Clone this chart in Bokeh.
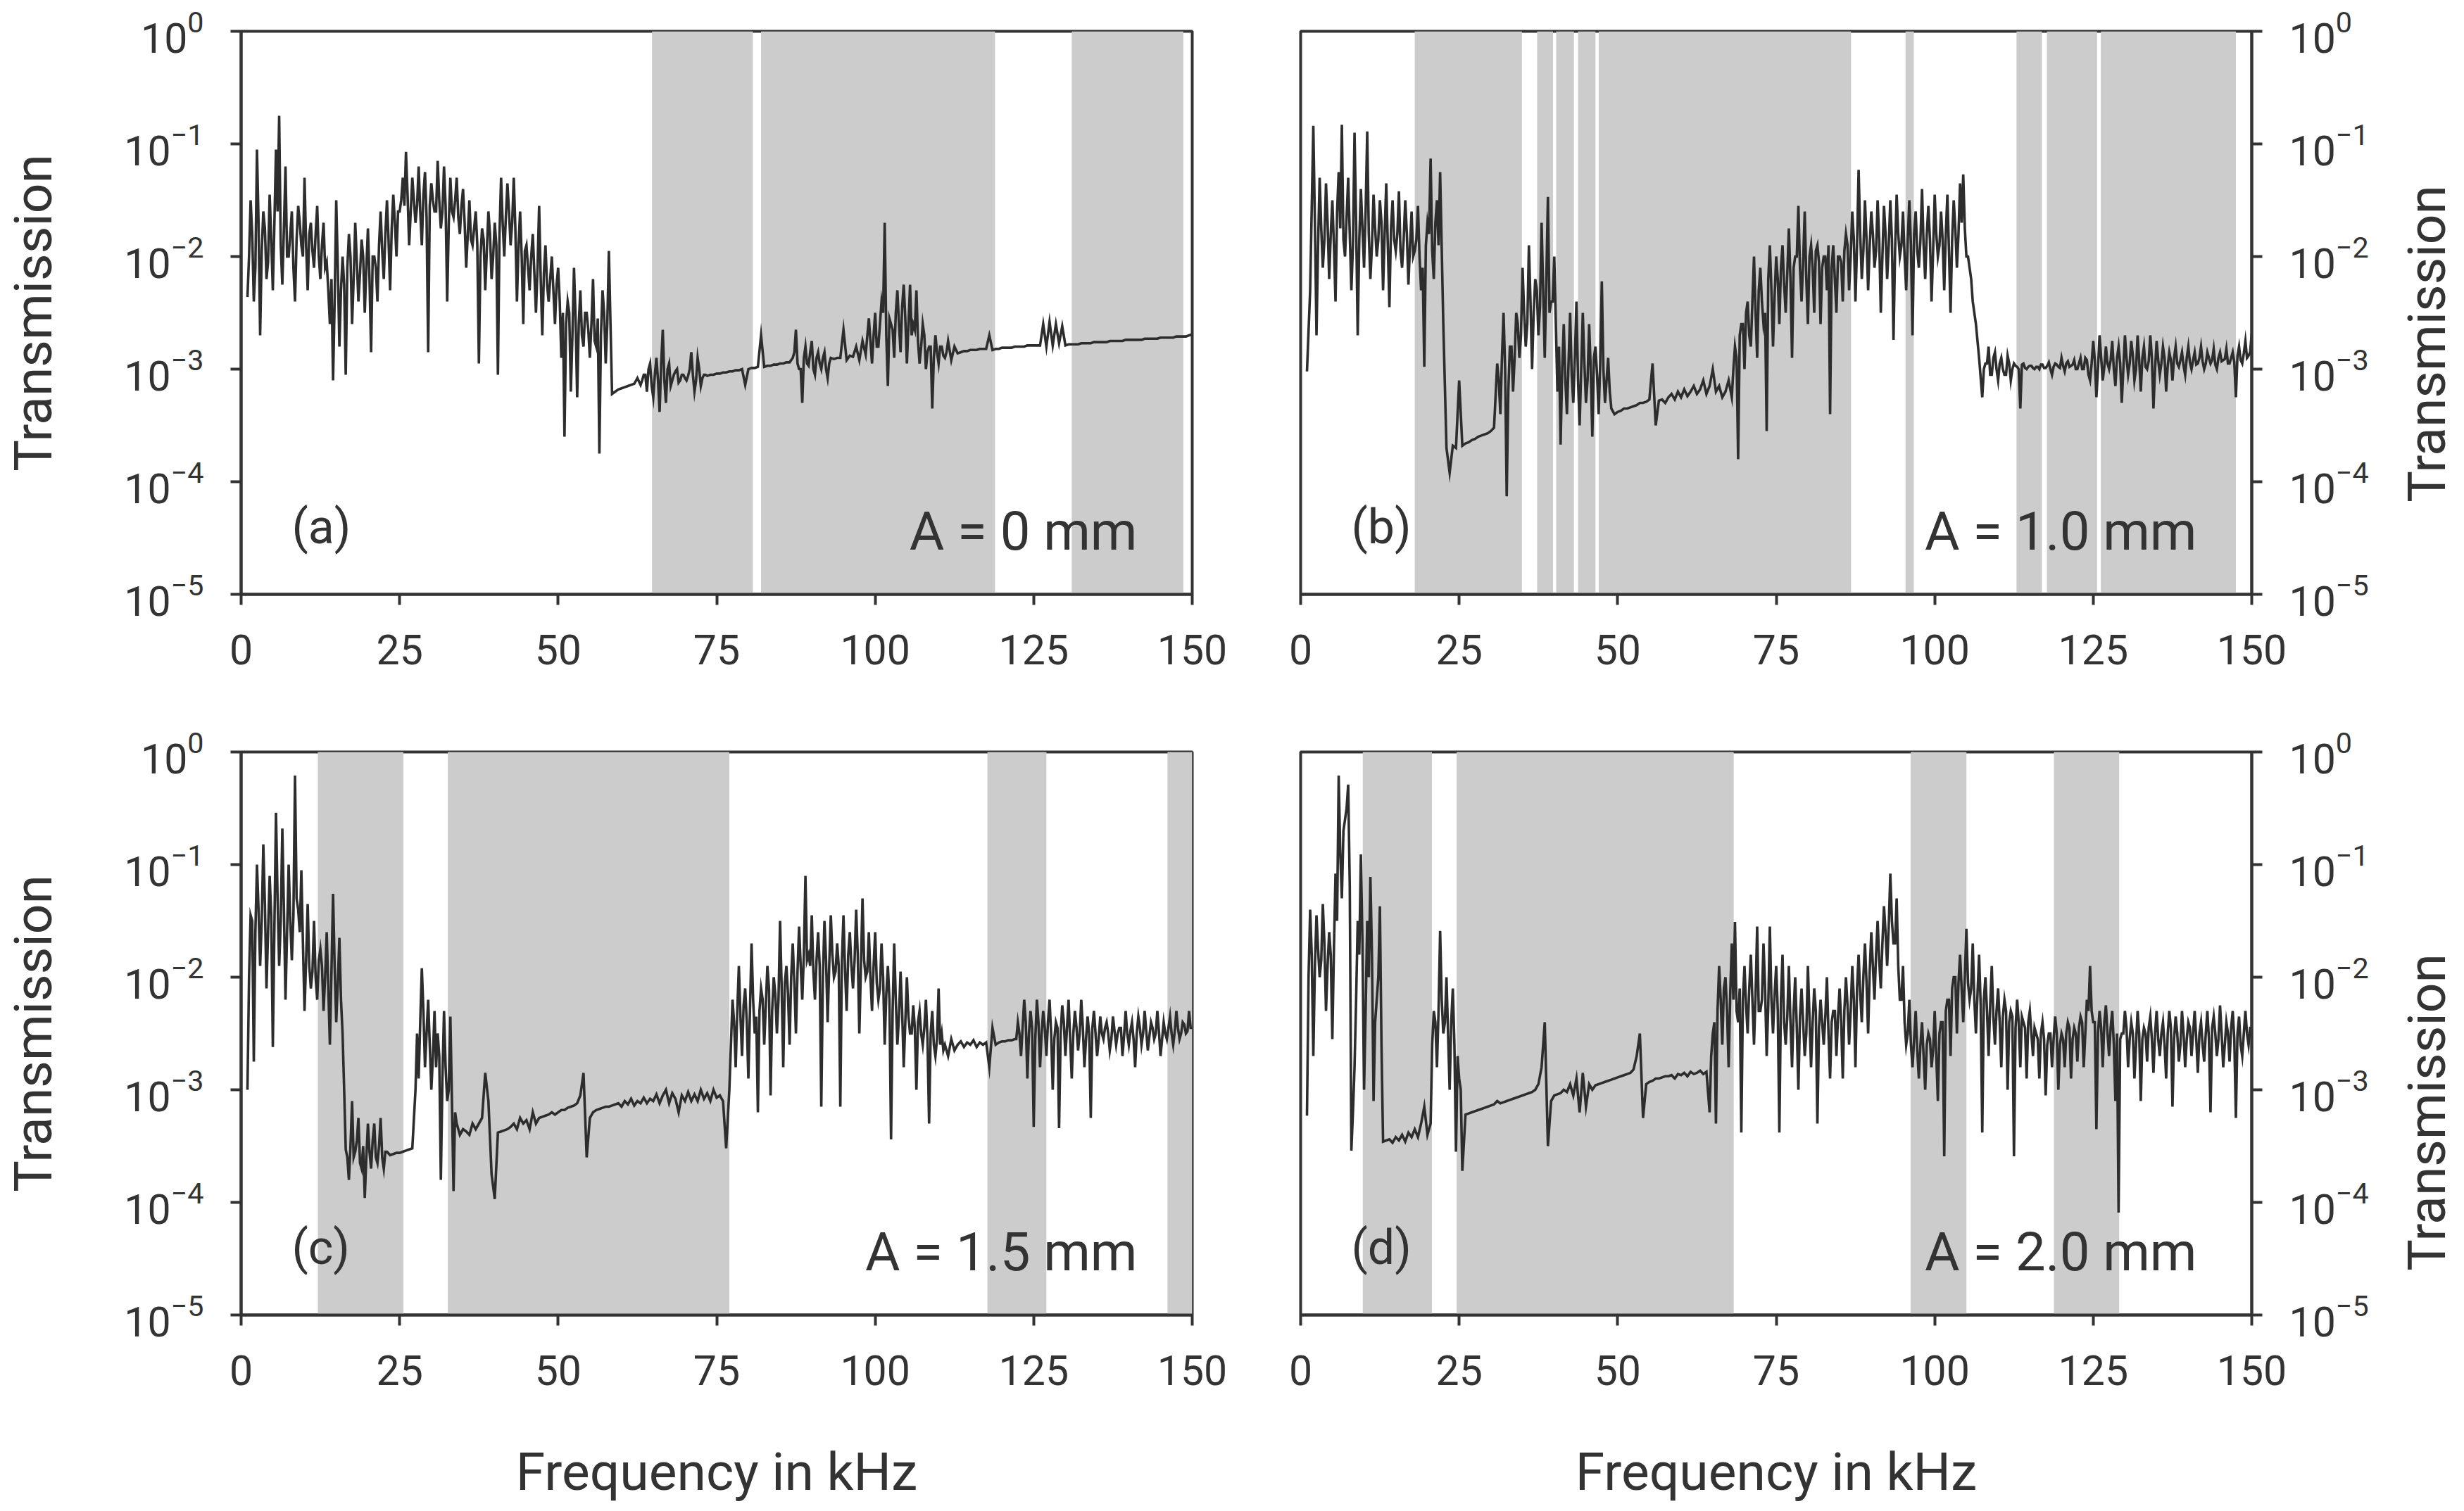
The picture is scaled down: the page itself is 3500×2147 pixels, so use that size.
import math
import numpy as np
from bokeh.plotting import figure
from bokeh.layouts import gridplot
from bokeh.models import Range1d, FixedTicker, Label
from bokeh.embed import file_html
from bokeh.resources import INLINE

# ---------------- data ----------------
# Transmission spectra sampled every 0.5 kHz from 1 kHz to 150 kHz,
# stored as log10(transmission).  The noisy stretches carry extra samples
# half-way between (listed per stretch as (first frequency, values)).
FREQ_START = 1.0
FREQ_STEP = 0.5

a_log10_T = [
    -2.36, -1.5, -2.4, -1.05, -2.7, -1.6, -2.2, -1.45, -2.3, -1.05, -0.75, -2.25, -1.2, -2.0, -1.6, -2.4, -1.55, -1.9, -1.3, -2.3,
    -1.7, -2.1, -1.55, -2.2, -1.7, -2.05, -2.6, -3.1, -1.5, -2.8, -2.0, -3.05, -1.8, -2.6, -1.7, -2.4, -1.85, -2.5, -1.75, -2.85,
    -2.0, -2.4, -1.6, -2.2, -1.5, -2.3, -1.45, -2.0, -1.6, -1.3, -1.07, -1.9, -1.3, -1.7, -1.2, -1.9, -1.25, -2.85, -1.35, -1.6,
    -1.15, -1.75, -1.2, -2.4, -1.3, -1.65, -1.3, -1.8, -1.4, -2.1, -1.5, -1.9, -1.6, -2.95, -1.75, -2.3, -1.6, -2.2, -1.7, -3.05,
    -1.3, -2.0, -1.35, -1.9, -1.3, -2.4, -1.6, -2.6, -1.9, -2.3, -1.8, -2.5, -1.55, -2.7, -1.9, -2.4, -2.0, -2.6, -2.1, -2.9,
    -3.6, -2.4, -3.2, -2.1, -3.25, -2.3, -2.8, -2.5, -2.9, -2.2, -2.8, -3.75, -2.3, -2.95, -1.95, -3.22, -3.2, -3.18, -3.17, -3.16,
    -3.15, -3.14, -3.13, -3.08, -3.14, -3.05, -3.2, -2.95, -3.25, -2.9, -3.38, -2.65, -3.3, -2.95, -3.1, -3.02, -3.12, -3.05, -3.08, -3.06,
    -2.85, -3.2, -2.9, -3.15, -3.05, -3.06, -3.05, -3.05, -3.04, -3.04, -3.03, -3.03, -3.02, -3.02, -3.01, -3.01, -3.0, -3.14, -3.0, -2.99,
    -2.99, -2.98, -2.7, -2.98, -2.97, -2.97, -2.96, -2.96, -2.95, -2.95, -2.94, -2.94, -2.9, -2.65, -3.0, -3.3, -2.8, -2.97, -2.75, -3.05,
    -2.85, -3.0, -2.85, -3.08, -2.9, -2.91, -2.9, -2.9, -2.65, -2.92, -2.88, -2.89, -2.8, -2.92, -2.75, -2.87, -2.55, -2.95, -2.5, -2.8,
    -2.4, -1.7, -3.15, -2.6, -2.9, -2.3, -2.85, -2.25, -2.95, -2.25, -2.6, -2.3, -2.95, -2.6, -3.0, -2.8, -3.35, -2.7, -2.95, -2.8,
    -2.9, -2.75, -2.92, -2.8, -2.86, -2.85, -2.84, -2.84, -2.83, -2.83, -2.83, -2.82, -2.82, -2.82, -2.7, -2.83, -2.82, -2.82, -2.81, -2.81,
    -2.81, -2.81, -2.8, -2.8, -2.8, -2.8, -2.79, -2.79, -2.79, -2.79, -2.79, -2.6, -2.8, -2.58, -2.79, -2.6, -2.77, -2.62, -2.79, -2.78,
    -2.78, -2.78, -2.78, -2.77, -2.77, -2.77, -2.77, -2.76, -2.76, -2.76, -2.76, -2.76, -2.75, -2.75, -2.75, -2.75, -2.75, -2.74, -2.74, -2.74,
    -2.74, -2.74, -2.74, -2.73, -2.73, -2.73, -2.73, -2.73, -2.72, -2.72, -2.72, -2.72, -2.72, -2.71, -2.71, -2.71, -2.71, -2.7, -2.69,
]
a_mid_log10_T = [
    (1.25, [-2.0, -1.8, -2.1, -1.7, -1.95, -1.75, -2.05, -1.85, -1.7, -1.6, -1.9, -1.75, -2.0, -1.8, -2.1, -1.85, -1.7, -2.0, -1.9, -1.8,
            -1.95, -1.8, -2.0, -1.9, -2.1, -2.3, -2.2, -2.4, -2.1, -2.3, -2.25, -2.1, -2.0, -2.2, -2.05, -2.15, -2.0, -2.1, -2.2, -2.0,
            -2.1, -1.9, -1.95, -1.8, -1.85, -1.75, -1.7, -1.6, -1.5, -1.55, -1.45, -1.6, -1.5, -1.55, -1.6, -1.45, -1.65, -1.55, -1.5, -1.6,
            -1.5, -1.6, -1.55, -1.7, -1.6, -1.5, -1.65, -1.55, -1.7, -1.8, -1.85, -1.75, -1.9, -2.0, -1.85, -1.95, -1.8, -2.0, -1.9, -1.8,
            -1.7, -1.65, -1.6, -1.7, -1.75, -1.9, -2.0, -1.95, -2.1, -2.0, -2.15, -2.1, -2.2, -2.15, -2.25, -2.2, -2.3, -2.25, -2.4, -2.5,
            -2.6, -2.5, -2.7, -2.55, -2.6, -2.7, -2.5, -2.65, -2.6, -2.75, -2.55, -2.7, -2.5, -2.6]),
    (63.25, [-3.1, -3.05, -3.0, -3.15, -3.05, -3.1, -2.95, -3.1, -3.0, -3.15, -3.05, -3.0, -3.1, -3.05, -3.1, -3.0, -3.05, -3.1, -3.0, -3.08, -3.05]),
    (87.25, [-2.85, -2.95, -3.0, -2.9, -2.95, -2.85, -3.0, -2.9, -2.95, -2.9, -3.0, -2.95]),
    (99.25, [-2.75, -2.7, -2.8, -2.6, -2.5, -2.7, -2.55, -2.65, -2.5, -2.6, -2.45, -2.55, -2.6, -2.7, -2.65, -2.75, -2.8, -2.7, -2.85, -2.8,
             -2.9, -2.85, -2.8, -2.88, -2.85]),
]

b_log10_T = [
    -3.02, -2.3, -0.84, -2.7, -1.3, -2.1, -1.35, -2.2, -1.5, -2.4, -1.25, -0.83, -2.0, -1.3, -2.3, -0.9, -2.7, -1.4, -2.1, -0.89,
    -2.2, -1.45, -2.0, -1.5, -2.3, -1.35, -2.45, -1.5, -1.95, -1.42, -2.1, -1.5, -2.25, -1.6, -1.95, -1.55, -2.3, -2.98, -1.7, -1.13,
    -2.2, -1.5, -1.25, -2.6, -3.7, -3.92, -3.68, -3.7, -3.1, -3.68, -3.66, -3.65, -3.63, -3.62, -3.6, -3.59, -3.58, -3.57, -3.55, -3.52,
    -2.95, -3.4, -2.5, -4.13, -2.8, -3.2, -2.5, -2.9, -2.1, -2.8, -1.9, -3.0, -2.2, -2.7, -1.7, -2.9, -1.47, -2.4, -2.0, -3.2,
    -3.67, -2.6, -3.4, -2.5, -3.3, -2.4, -3.5, -2.5, -3.3, -2.6, -3.6, -2.8, -3.4, -2.22, -3.3, -2.9, -3.35, -3.4, -3.38, -3.37,
    -3.35, -3.35, -3.34, -3.33, -3.32, -3.3, -3.3, -3.29, -3.27, -2.95, -3.5, -3.28, -3.27, -3.3, -3.25, -3.22, -3.27, -3.2, -3.25, -3.18,
    -3.24, -3.2, -3.15, -3.22, -3.18, -3.1, -3.22, -3.15, -3.0, -3.2, -3.15, -3.25, -3.2, -3.1, -3.25, -2.8, -3.8, -2.6, -3.0, -2.4,
    -2.8, -2.0, -2.9, -2.1, -2.6, -3.55, -1.9, -2.8, -2.0, -2.6, -1.9, -2.5, -1.75, -2.9, -2.0, -1.55, -2.4, -1.6, -2.6, -1.9,
    -2.5, -1.9, -2.6, -2.0, -2.3, -3.4, -1.9, -2.5, -2.0, -2.4, -1.8, -2.3, -1.6, -2.4, -1.23, -2.2, -1.5, -2.3, -1.6, -2.1,
    -1.5, -2.5, -1.55, -2.2, -1.5, -2.74, -1.45, -2.0, -1.6, -2.3, -1.5, -2.7, -1.6, -2.1, -1.4, -2.2, -1.55, -2.4, -1.45, -2.0,
    -1.6, -2.3, -1.45, -2.5, -1.5, -2.1, -1.35, -1.27, -2.0, -2.1, -2.4, -2.6, -2.9, -3.25, -2.95, -2.8, -3.05, -2.85, -3.1, -2.9,
    -3.05, -2.88, -3.1, -2.95, -2.98, -3.35, -2.95, -3.0, -2.97, -2.99, -2.98, -3.0, -2.96, -2.99, -2.94, -3.05, -2.95, -2.98, -2.9, -3.02,
    -2.93, -2.97, -2.92, -3.0, -2.9, -3.0, -2.92, -3.1, -2.75, -3.25, -2.7, -3.1, -2.8, -3.0, -2.75, -3.15, -2.8, -3.3, -2.7, -3.05,
    -2.75, -3.1, -2.7, -3.2, -2.8, -3.0, -2.7, -3.35, -2.75, -3.05, -2.8, -3.2, -2.85, -3.1, -2.8, -2.98, -2.85, -3.05, -2.8, -3.0,
    -2.85, -2.95, -2.8, -3.0, -2.85, -2.95, -2.82, -3.0, -2.85, -2.92, -2.82, -2.95, -2.85, -3.25, -2.8, -2.95, -2.75, -2.88, -2.68,
]
b_mid_log10_T = [
    (2.25, [-1.7, -1.9, -1.75, -1.85, -1.7, -1.8, -1.9, -1.6, -1.75, -1.85, -1.65, -1.8, -1.9, -1.7, -1.85, -1.75, -1.6, -1.8, -1.9, -1.75,
            -1.85, -1.7, -1.8, -1.9, -1.75, -1.85, -1.8, -1.95, -1.85, -1.8, -1.9, -2.0, -1.85, -2.0, -2.1, -1.9, -1.8, -1.95, -1.7, -1.9]),
    (31.25, [-3.1, -2.9, -3.0, -3.2, -2.8, -2.9, -2.6, -2.7, -2.5, -2.6, -2.4, -2.5, -2.3, -2.45, -2.3, -2.2, -2.5, -2.4, -2.6, -2.8,
             -3.0, -3.1, -2.95, -3.05, -2.9, -3.1, -3.0, -2.95, -3.1, -3.0, -2.9, -3.05, -2.95, -3.0, -3.1, -3.2]),
    (68.25, [-3.0, -2.9, -2.7, -2.6, -2.5, -2.7, -2.4, -2.5, -2.3, -2.4, -2.5, -2.2, -2.3, -2.35, -2.2, -2.1, -2.25, -2.15, -2.2, -2.1,
             -2.0, -2.1, -2.05, -2.2, -2.0, -2.1, -1.95, -2.05, -2.1, -2.0, -1.9, -2.1, -2.2, -2.0, -2.05, -1.95, -1.9, -2.0, -1.85, -1.9,
             -1.8, -1.95, -1.85, -1.9, -1.8, -1.95, -1.85, -2.0, -1.8, -1.9, -1.85, -1.95, -1.8, -1.9, -2.0, -1.85, -1.9, -1.8, -1.95, -1.85,
             -1.9, -1.8, -1.85, -1.95, -1.8, -1.9, -1.85, -1.8, -1.95, -1.85, -1.75, -1.8, -1.7, -1.75, -2.0, -2.2]),
    (107.75, [-3.0, -2.95, -3.05, -2.9, -3.0, -2.95, -3.0, -3.05, -2.95, -3.0, -2.97, -3.0, -2.96, -2.99, -2.98, -2.97, -3.0, -2.98, -2.96, -2.99,
              -2.97, -3.0, -2.98, -2.96, -2.99, -2.97, -2.95, -2.98, -2.96, -3.0, -2.95, -3.0, -2.9, -3.05, -2.95, -2.92, -3.0, -2.9, -2.98, -2.95,
              -2.92, -3.0, -2.9, -2.95, -3.0, -2.9, -2.95, -2.88, -3.0, -2.92, -2.9, -2.98, -2.93, -2.9, -3.0, -2.92, -2.95, -2.9, -2.97, -2.92,
              -2.9, -2.95, -2.92, -2.97, -2.9, -2.94, -2.92, -2.96, -2.9, -2.93, -2.95, -2.9, -2.92, -2.96, -2.9, -2.93, -2.91, -2.95, -2.9, -2.94,
              -2.88, -2.92, -2.86, -2.9, -2.85]),
]

c_log10_T = [
    -3.0, -1.45, -2.75, -1.0, -1.9, -0.82, -2.1, -1.1, -2.62, -0.54, -1.9, -0.68, -2.2, -1.0, -1.85, -0.21, -1.4, -1.05, -2.3, -1.35,
    -2.1, -1.5, -2.2, -1.75, -2.3, -1.6, -2.6, -1.26, -2.4, -1.65, -2.5, -3.53, -3.8, -3.1, -3.55, -3.25, -3.7, -3.96, -3.3, -3.7,
    -3.3, -3.65, -3.25, -3.7, -3.55, -3.58, -3.57, -3.56, -3.56, -3.55, -3.54, -3.53, -3.52, -3.0, -2.9, -1.92, -2.8, -2.2, -3.0, -2.3,
    -2.5, -3.8, -2.3, -3.1, -2.35, -3.9, -3.3, -3.4, -3.35, -3.37, -3.4, -3.3, -3.35, -3.3, -3.25, -2.85, -3.1, -3.75, -3.97, -3.38,
    -3.37, -3.36, -3.35, -3.33, -3.3, -3.35, -3.25, -3.3, -3.27, -3.35, -3.2, -3.3, -3.25, -3.24, -3.23, -3.22, -3.2, -3.22, -3.2, -3.18,
    -3.18, -3.16, -3.15, -3.14, -3.12, -3.05, -2.85, -3.6, -3.25, -3.2, -3.18, -3.17, -3.16, -3.15, -3.15, -3.14, -3.13, -3.12, -3.15, -3.1,
    -3.13, -3.08, -3.14, -3.1, -3.12, -3.07, -3.12, -3.08, -3.1, -3.04, -3.12, -3.05, -3.0, -3.12, -3.03, -3.08, -3.2, -3.05, -3.1, -3.02,
    -3.1, -3.04, -3.1, -3.0, -3.08, -3.03, -3.1, -3.0, -3.07, -3.05, -3.1, -3.52, -3.0, -2.2, -2.8, -1.9, -2.7, -2.1, -2.9, -1.7,
    -2.5, -3.2, -2.1, -2.6, -1.9, -3.05, -2.0, -2.5, -1.5, -2.8, -1.9, -2.6, -1.7, -2.5, -1.55, -2.2, -1.1, -1.8, -1.45, -2.2,
    -1.6, -3.15, -1.5, -2.4, -1.45, -2.0, -1.7, -3.15, -1.45, -2.3, -1.6, -2.1, -1.4, -2.5, -1.3, -2.0, -1.6, -2.3, -1.6, -2.2,
    -1.7, -2.6, -1.9, -3.44, -1.7, -2.6, -1.95, -2.8, -2.0, -2.5, -2.25, -3.0, -2.3, -2.6, -2.2, -3.3, -2.3, -2.7, -2.1, -2.5,
    -2.6, -2.7, -2.55, -2.65, -2.6, -2.57, -2.62, -2.58, -2.6, -2.56, -2.62, -2.58, -2.6, -2.58, -2.8, -2.45, -2.6, -2.58, -2.57, -2.57,
    -2.56, -2.56, -2.55, -2.4, -2.7, -2.2, -2.9, -2.3, -3.33, -2.2, -2.8, -2.3, -2.7, -2.2, -3.0, -2.4, -3.34, -2.25, -2.7, -2.2,
    -2.9, -2.3, -2.65, -2.2, -2.8, -2.35, -3.25, -2.3, -2.7, -2.35, -2.55, -2.4, -2.65, -2.35, -2.6, -2.45, -2.7, -2.3, -2.6, -2.4,
    -2.8, -2.35, -2.6, -2.3, -2.65, -2.4, -2.55, -2.3, -2.7, -2.4, -2.55, -2.35, -2.6, -2.3, -2.55, -2.4, -2.5, -2.3, -2.45,
]
c_mid_log10_T = [
    (1.25, [-2.0, -1.5, -1.6, -1.4, -1.5, -1.35, -1.6, -1.45, -1.55, -1.3, -1.5, -1.4, -1.6, -1.5, -1.45, -1.3, -1.6, -1.7, -1.85, -1.9,
            -1.95, -2.0, -1.85, -1.9, -2.0, -2.1, -1.95, -1.9, -2.05, -2.2, -3.0, -3.6, -3.5, -3.6, -3.45, -3.65, -3.5, -3.6, -3.55, -3.45,
            -3.6, -3.5, -3.6, -3.55]),
    (27.75, [-2.5, -2.4, -2.3, -2.5, -2.6, -2.7, -2.8, -2.7, -2.9, -2.8, -3.0, -3.1, -3.2]),
    (77.25, [-2.6, -2.4, -2.3, -2.35, -2.25, -2.4, -2.3, -2.2, -2.35, -2.3, -2.2, -2.25, -2.1, -2.3, -2.15, -2.2, -2.1, -2.05, -2.15, -2.0,
             -2.05, -1.95, -1.9, -1.8, -1.85, -1.9, -1.95, -1.85, -1.9, -2.0, -1.85, -1.9, -1.8, -1.95, -1.9, -1.85, -1.95, -1.8, -1.9, -1.85,
             -1.8, -1.9, -1.85, -1.95, -2.0, -1.9, -2.05, -2.1, -2.0, -2.15, -2.2, -2.3, -2.2, -2.35, -2.3, -2.4, -2.35, -2.5, -2.45, -2.4,
             -2.5, -2.45, -2.55, -2.5, -2.6, -2.55, -2.6, -2.65]),
    (122.25, [-2.55, -2.5, -2.45, -2.4, -2.5, -2.45, -2.55, -2.4, -2.5, -2.45, -2.4, -2.5, -2.55, -2.45, -2.5, -2.4, -2.45, -2.55, -2.5, -2.45,
              -2.5, -2.45, -2.55, -2.5, -2.45, -2.5, -2.55, -2.5, -2.45, -2.5, -2.55, -2.48, -2.5, -2.45, -2.52, -2.5, -2.48, -2.55, -2.5, -2.45,
              -2.5, -2.48, -2.52, -2.45, -2.5, -2.48, -2.55, -2.5, -2.45, -2.5, -2.48, -2.45, -2.5, -2.42, -2.48, -2.45]),
]

d_log10_T = [
    -3.23, -1.4, -2.7, -1.45, -2.0, -1.35, -2.3, -1.6, -2.55, -1.08, -0.21, -1.3, -0.6, -0.29, -3.54, -2.8, -1.5, -0.91, -3.0, -1.5,
    -1.11, -3.1, -2.2, -1.37, -3.46, -3.45, -3.44, -3.47, -3.42, -3.45, -3.4, -3.46, -3.38, -3.42, -3.35, -3.42, -3.3, -3.15, -3.4, -3.3,
    -2.3, -2.8, -1.59, -2.5, -2.0, -3.0, -2.1, -3.55, -2.9, -3.72, -3.22, -3.21, -3.2, -3.19, -3.18, -3.17, -3.16, -3.15, -3.14, -3.13,
    -3.1, -3.12, -3.11, -3.1, -3.09, -3.08, -3.07, -3.06, -3.05, -3.04, -3.03, -3.02, -3.0, -2.95, -2.8, -2.4, -3.5, -3.1, -3.05, -3.04,
    -3.03, -3.0, -3.02, -2.95, -3.05, -2.9, -3.2, -2.85, -3.15, -2.95, -3.0, -2.96, -2.95, -2.94, -2.93, -2.92, -2.91, -2.9, -2.89, -2.88,
    -2.87, -2.86, -2.85, -2.82, -2.7, -2.5, -3.25, -2.95, -2.93, -2.92, -2.9, -2.9, -2.89, -2.88, -2.88, -2.87, -2.9, -2.86, -2.87, -2.85,
    -2.88, -2.84, -2.86, -2.85, -2.83, -2.86, -2.84, -3.2, -2.5, -3.3, -1.9, -2.6, -2.0, -2.8, -1.7, -1.51, -2.4, -3.38, -1.9, -2.5,
    -1.8, -2.6, -1.55, -2.3, -1.7, -2.7, -1.55, -2.5, -1.9, -3.38, -1.8, -2.6, -1.9, -2.8, -2.0, -3.0, -2.1, -2.7, -1.9, -2.8,
    -2.1, -3.3, -2.2, -2.6, -2.0, -2.9, -2.3, -2.7, -2.1, -2.9, -2.0, -2.6, -1.9, -2.8, -1.8, -2.4, -1.7, -2.5, -1.6, -2.2,
    -1.5, -2.1, -1.37, -1.9, -1.08, -1.7, -1.3, -2.2, -1.9, -2.6, -2.2, -2.8, -2.3, -2.9, -2.4, -3.0, -2.5, -2.8, -2.3, -3.1,
    -2.4, -3.59, -2.2, -2.7, -2.0, -2.5, -1.8, -2.4, -1.57, -2.2, -1.7, -2.5, -1.8, -3.38, -2.0, -2.7, -1.9, -2.6, -2.1, -2.8,
    -2.2, -3.0, -2.3, -3.59, -2.2, -2.8, -2.4, -2.9, -2.3, -2.7, -2.5, -2.9, -2.4, -3.05, -2.5, -2.8, -2.35, -3.0, -2.5, -2.8,
    -2.4, -2.9, -2.45, -2.75, -2.35, -2.8, -2.2, -1.9, -2.4, -3.35, -2.3, -2.8, -2.25, -2.7, -2.3, -3.1, -4.09, -2.5, -2.3, -2.8,
    -2.4, -2.9, -2.3, -3.1, -2.45, -2.75, -2.35, -2.85, -2.3, -2.7, -2.4, -2.9, -2.3, -3.15, -2.35, -2.75, -2.3, -2.8, -2.4, -2.7,
    -2.3, -2.85, -2.4, -2.75, -2.3, -3.2, -2.35, -2.7, -2.25, -2.8, -2.4, -2.75, -2.3, -3.25, -2.35, -2.7, -2.3, -2.6, -2.45,
]
d_mid_log10_T = [
    (1.25, [-2.0, -1.8, -1.9, -1.75, -1.85, -1.7, -1.9, -1.8, -1.75, -1.5, -0.9, -0.7, -0.5, -1.2, -3.2, -2.2, -1.8, -1.7, -2.3, -2.0,
            -1.8, -2.4, -2.0, -2.6]),
    (20.75, [-2.6, -2.4, -2.3, -2.2, -2.4, -2.5, -2.4, -2.6, -2.7, -3.0]),
    (64.75, [-2.7, -2.4, -2.3, -2.2, -2.1, -2.3, -2.15, -2.2, -2.3, -2.1, -2.2, -2.25, -2.1, -2.2, -2.15, -2.3, -2.2, -2.1, -2.25, -2.2,
             -2.15, -2.3, -2.2, -2.4, -2.35, -2.4, -2.3, -2.45, -2.35, -2.4, -2.5, -2.35, -2.4, -2.3, -2.45, -2.4, -2.35, -2.5, -2.4, -2.3,
             -2.35, -2.4, -2.3, -2.25, -2.3, -2.2, -2.1, -2.15, -2.0, -2.05, -1.95, -1.9, -1.8, -1.85, -1.7, -1.6, -1.55, -1.5, -1.7, -1.9,
             -2.2, -2.4, -2.5, -2.6, -2.55, -2.65, -2.6, -2.7, -2.6, -2.55, -2.65, -2.7, -2.5, -2.4, -2.3, -2.2, -2.1, -2.0, -2.05, -2.1,
             -2.0, -2.05, -2.1, -2.2, -2.15, -2.25, -2.2, -2.3, -2.25, -2.35, -2.3, -2.4, -2.35, -2.3, -2.4, -2.35, -2.45, -2.4, -2.35, -2.45,
             -2.4, -2.5, -2.45, -2.55, -2.5, -2.55, -2.6, -2.5, -2.55, -2.5, -2.6, -2.55, -2.5, -2.45, -2.55, -2.5, -2.45, -2.4, -2.5, -2.3,
             -2.3, -2.4, -2.5, -2.45, -2.4, -2.5, -2.45, -2.6, -2.5, -2.55, -2.5, -2.45, -2.55, -2.5, -2.6, -2.5, -2.55, -2.5, -2.45, -2.55,
             -2.5, -2.55, -2.5, -2.6, -2.5, -2.45, -2.55, -2.5, -2.6, -2.5, -2.55, -2.45, -2.5, -2.55, -2.5, -2.6, -2.5, -2.55, -2.45, -2.5,
             -2.55, -2.5, -2.6, -2.5, -2.45, -2.55, -2.5, -2.6, -2.5, -2.5, -2.45]),
]

# shaded frequency bands (kHz)
a_band_start = [64.8, 82.0, 131.0]
a_band_end = [80.7, 118.9, 148.6]
b_band_start = [18.0, 37.3, 40.3, 43.75, 47.0, 95.4, 112.9, 117.7, 126.2]
b_band_end = [34.9, 39.8, 43.1, 46.5, 86.8, 96.7, 116.9, 125.6, 147.5]
c_band_start = [12.1, 32.6, 117.7, 146.1]
c_band_end = [25.6, 77.0, 127.0, 150.0]
d_band_start = [9.8, 24.6, 96.2, 118.8]
d_band_end = [20.7, 68.3, 105.0, 129.1]

panel_tags = ["(a)", "(b)", "(c)", "(d)"]
panel_amplitudes = ["A = 0 mm", "A = 1.0 mm", "A = 1.5 mm", "A = 2.0 mm"]
x_tick_values = [0, 25, 50, 75, 100, 125, 150]
y_tick_values = [1e-5, 1e-4, 1e-3, 1e-2, 1e-1, 1e0]
y_title = "Transmission"
x_title = "Frequency in kHz"

# ---------------- styling / layout ----------------
FONT = "Roboto"
INK = "#333333"
LINE = "#2d2d2d"
BAND = "#cccccc"
FRAME_W, FRAME_H = 1351, 800
TOP_ROW = dict(top=44, bottom=112)
BOT_ROW = dict(top=112, bottom=263)
RIGHT_TICK_SPACE = 170
TITLE_STRIP_W = 127


def spectrum(base, mids):
    f = [FREQ_START + FREQ_STEP * i for i in range(len(base))]
    v = list(base)
    for start, vals in mids:
        f += [start + FREQ_STEP * i for i in range(len(vals))]
        v += list(vals)
    f = np.asarray(f)
    v = np.asarray(v)
    order = np.argsort(f, kind="stable")
    return f[order], 10.0 ** v[order]


def make_panel(base, mids, b_start, b_end, tag, amp, side, bottom_row):
    rowb = BOT_ROW if bottom_row else TOP_ROW
    p = figure(
        x_range=Range1d(0, 150), y_range=Range1d(1e-5, 1.0),
        y_axis_type="log", y_axis_location=side,
        frame_width=FRAME_W, frame_height=FRAME_H,
        output_backend="svg", toolbar_location=None,
        background_fill_color="white", border_fill_color="white",
        min_border_left=331 if side == "left" else 77,
        min_border_right=77 if side == "left" else RIGHT_TICK_SPACE,
        min_border_top=rowb["top"], min_border_bottom=rowb["bottom"],
    )
    p.grid.visible = False
    p.outline_line_color = INK
    p.outline_line_width = 4
    p.outline_line_alpha = 1.0

    freq, trans = spectrum(base, mids)

    p.quad(left=b_start, right=b_end, bottom=1e-5, top=1.0,
           fill_color=BAND, line_color=None)
    p.line(freq, trans, line_color=LINE, line_width=3.6, line_join="miter")

    xa = p.xaxis[0]
    xa.ticker = FixedTicker(ticks=x_tick_values)
    ya = p.yaxis[0]
    ya.ticker = FixedTicker(ticks=y_tick_values)
    for ax in (xa, ya):
        ax.axis_line_color = INK
        ax.axis_line_width = 4
        ax.major_tick_line_color = INK
        ax.major_tick_line_width = 4
        ax.major_tick_out = 15
        ax.major_tick_in = 0
        ax.minor_tick_line_color = None
        ax.major_label_text_font = FONT
        ax.major_label_text_font_size = "59px"
        ax.major_label_text_color = INK
        ax.axis_label_text_font = FONT
        ax.axis_label_text_font_size = "75px"
        ax.axis_label_text_font_style = "normal"
        ax.axis_label_text_color = INK
    xa.major_label_standoff = 42
    ya.major_label_standoff = 38

    if side == "left":
        ya.axis_label = y_title
        ya.axis_label_standoff = 82

    if bottom_row:
        xa.axis_label = x_title
        xa.axis_label_standoff = 76

    p.add_layout(Label(x=72, y=96, x_units="screen", y_units="screen", text=tag,
                       text_font=FONT, text_font_size="68px", text_color=INK,
                       text_baseline="alphabetic", text_align="left"))
    p.add_layout(Label(x=FRAME_W - 78, y=90, x_units="screen", y_units="screen", text=amp,
                       text_font=FONT, text_font_size="76px", text_color=INK,
                       text_baseline="alphabetic", text_align="right"))
    return p


def make_title_strip(bottom_row):
    # narrow blank canvas holding the right-hand "Transmission" title,
    # which reads bottom-to-top like the left one
    rowb = BOT_ROW if bottom_row else TOP_ROW
    h = rowb["top"] + FRAME_H + rowb["bottom"]
    s = figure(
        x_range=Range1d(0, 1), y_range=Range1d(0, 1),
        x_axis_location=None, y_axis_location=None,
        frame_width=TITLE_STRIP_W, frame_height=h,
        min_border_left=0, min_border_right=0, min_border_top=0, min_border_bottom=0,
        output_backend="svg", toolbar_location=None,
        background_fill_color="white", border_fill_color="white",
    )
    s.grid.visible = False
    s.outline_line_color = None
    s.add_layout(Label(x=78, y=rowb["bottom"] + FRAME_H / 2, x_units="screen", y_units="screen",
                       text=y_title, angle=90, angle_units="deg",
                       text_font=FONT, text_font_size="75px", text_color=INK,
                       text_align="center", text_baseline="middle"))
    return s


pa = make_panel(a_log10_T, a_mid_log10_T, a_band_start, a_band_end, panel_tags[0], panel_amplitudes[0], "left", False)
pb = make_panel(b_log10_T, b_mid_log10_T, b_band_start, b_band_end, panel_tags[1], panel_amplitudes[1], "right", False)
pc = make_panel(c_log10_T, c_mid_log10_T, c_band_start, c_band_end, panel_tags[2], panel_amplitudes[2], "left", True)
pd = make_panel(d_log10_T, d_mid_log10_T, d_band_start, d_band_end, panel_tags[3], panel_amplitudes[3], "right", True)
sb = make_title_strip(False)
sd = make_title_strip(True)

grid = gridplot([[pa, pb, sb], [pc, pd, sd]], toolbar_location=None)

open("out.html", "w").write(file_html(grid, INLINE))
